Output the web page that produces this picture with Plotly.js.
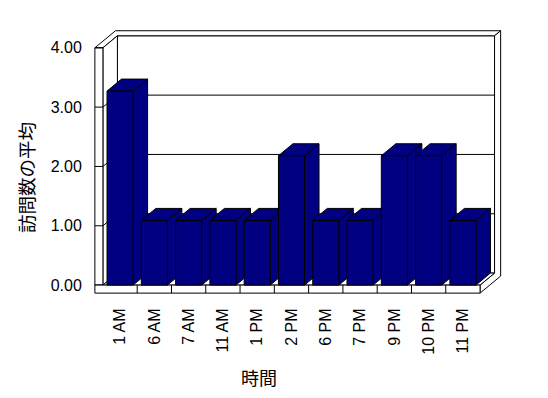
<!DOCTYPE html>
<html><head><meta charset="utf-8">
<script src="https://cdn.plot.ly/plotly-3.0.1.min.js"></script>
<style>html,body{margin:0;padding:0;background:#fff}#chart{width:548px;height:398px}</style>
</head><body><div id="chart"></div>
<script>
// ---- data ----
const categories = ['1 AM','6 AM','7 AM','11 AM','1 PM','2 PM','6 PM','7 PM','9 PM','10 PM','11 PM'];
const values = [3.27, 1.09, 1.09, 1.09, 1.09, 2.18, 1.09, 1.09, 2.18, 2.18, 1.09];
const yTickValues = [0, 1, 2, 3, 4];
const yTickLabels = ['0.00', '1.00', '2.00', '3.00', '4.00'];
const xTitle = '時間';
const yTitle = '訪問数の平均';

// ---- 3D look geometry (axis units) ----
const depthX = 0.423, depthY = 0.2025;   // oblique depth vector
const halfBar = 0.38;
const X0 = -0.734, X1 = -0.5, X2 = categories.length - 0.5;
const Yb = -0.135, Yt = yTickValues[yTickValues.length - 1];
const ZB = 1.42;
const NAVY = '#000080';

function P(x, y, z) { return [x + z * depthX, y + z * depthY]; }
function poly(pts, fill) {
  const xs = pts.map(p => p[0]), ys = pts.map(p => p[1]);
  xs.push(pts[0][0]); ys.push(pts[0][1]);
  return {type: 'scatter', mode: 'lines', x: xs, y: ys,
    fill: 'toself', fillcolor: fill,
    line: {color: '#000', width: 1}, hoverinfo: 'skip', showlegend: false};
}
function segs(list) {
  const xs = [], ys = [];
  list.forEach(s => { s.forEach(p => { xs.push(p[0]); ys.push(p[1]); }); xs.push(null); ys.push(null); });
  return {type: 'scatter', mode: 'lines', x: xs, y: ys, connectgaps: false,
    line: {color: '#000', width: 1}, hoverinfo: 'skip', showlegend: false};
}

const traces = [];
// back wall visible front face
traces.push(poly([P(X1, 0, 1), P(X2, 0, 1), P(X2, Yt, 1), P(X1, Yt, 1)], '#fff'));
// combined top edge (left wall + back wall)
traces.push(poly([P(X0, Yt, 0), P(X0, Yt, ZB), P(X2, Yt, ZB), P(X2, Yt, 1), P(X1, Yt, 1), P(X1, Yt, 0)], '#fff'));
// right side (floor + back wall)
traces.push(poly([P(X2, Yb, 0), P(X2, 0, 0), P(X2, 0, 1), P(X2, Yt, 1), P(X2, Yt, ZB), P(X2, Yb, ZB)], '#fff'));
// left wall inner face
traces.push(poly([P(X1, 0, 0), P(X1, Yt, 0), P(X1, Yt, 1), P(X1, 0, 1)], '#fff'));
// gridlines on walls
const grid = yTickValues.filter(v => v > 0 && v < Yt).map(v => [P(X1, v, 0), P(X1, v, 1), P(X2, v, 1)]);
traces.push(segs(grid));
// left wall front face
traces.push(poly([P(X0, 0, 0), P(X1, 0, 0), P(X1, Yt, 0), P(X0, Yt, 0)], '#fff'));
traces.push(segs(yTickValues.map(v => [P(X0, v, 0), P(X1, v, 0)])));
// floor top
traces.push(poly([P(X1, 0, 0), P(X2, 0, 0), P(X2, 0, 1), P(X1, 0, 1)], '#fff'));
// floor front
traces.push(poly([P(X0, Yb, 0), P(X2, Yb, 0), P(X2, 0, 0), P(X0, 0, 0)], '#fff'));
traces.push(segs(categories.slice(0, -1).map((c, i) => [P(i + 0.5, Yb, 0), P(i + 0.5, 0, 0)])));

// bars
values.forEach((v, i) => {
  const a = i - halfBar, b = i + halfBar;
  traces.push(poly([P(b, 0, 0), P(b, v, 0), P(b, v, 1), P(b, 0, 1)], NAVY));
  traces.push(poly([P(a, v, 0), P(b, v, 0), P(b, v, 1), P(a, v, 1)], NAVY));
  traces.push(poly([P(a, 0, 0), P(b, 0, 0), P(b, v, 0), P(a, v, 0)], NAVY));
});

const FONT = 'Liberation Sans, Arial, sans-serif';
const CJK = 'Noto Sans CJK JP, sans-serif';
const layout = {
  width: 548, height: 398,
  margin: {l: 94, r: 46, t: 30, b: 104},
  paper_bgcolor: '#fff', plot_bgcolor: '#fff',
  showlegend: false,
  xaxis: {
    range: [-0.76, 11.14], fixedrange: true,
    tickmode: 'array', tickvals: categories.map((c, i) => i), ticktext: categories,
    tickangle: -90, ticks: 'outside', ticklen: 7, tickcolor: 'rgba(0,0,0,0)',
    tickfont: {family: FONT, size: 16, color: '#000'},
    showgrid: false, zeroline: false, showline: false
  },
  yaxis: {
    range: [-0.15, 4.30], fixedrange: true,
    tickmode: 'array', tickvals: yTickValues, ticktext: yTickLabels,
    ticks: 'outside', ticklen: 8, tickcolor: 'rgba(0,0,0,0)',
    tickfont: {family: FONT, size: 16, color: '#000'},
    showgrid: false, zeroline: false, showline: false
  },
  annotations: [
    {text: xTitle, xref: 'paper', yref: 'paper', x: 0.404, y: -0.314,
     xanchor: 'center', yanchor: 'middle', showarrow: false,
     font: {family: CJK, size: 18, color: '#000'}},
    {text: yTitle, xref: 'paper', yref: 'paper', x: -0.1667, y: 0.443,
     xanchor: 'center', yanchor: 'middle', textangle: -90, showarrow: false,
     font: {family: CJK, size: 18.5, color: '#000'}}
  ]
};
Plotly.newPlot('chart', traces, layout, {staticPlot: true, displayModeBar: false});
</script>
</body></html>
